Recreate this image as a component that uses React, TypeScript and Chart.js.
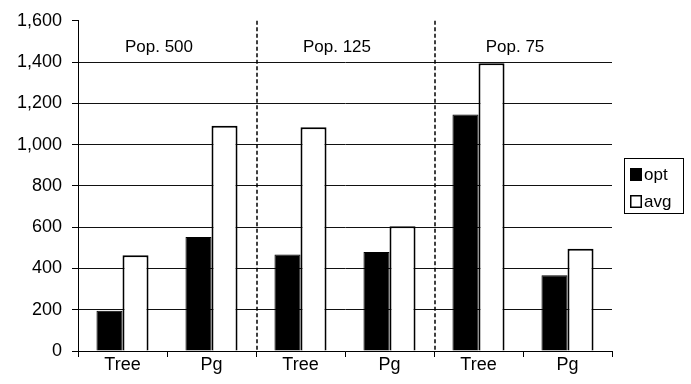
import React, { useEffect, useRef } from "react";
import { Chart, registerables } from "chart.js";

Chart.register(...registerables);

const categories = ["Tree", "Pg", "Tree", "Pg", "Tree", "Pg"];
const groupLabels = ["Pop. 500", "Pop. 125", "Pop. 75"];
const optValues = [195, 552, 467, 480, 1146, 367];
const avgValues = [464, 1092, 1084, 604, 1394, 496];
const seriesNames = ["opt", "avg"];
const yMin = 0;
const yMax = 1600;
const yStep = 200;

const FONT = "'Liberation Sans', Arial, Helvetica, sans-serif";

const overlayPlugin = {
  id: "overlay",
  afterDraw(chart: any) {
    const { ctx, chartArea, scales } = chart;
    const x = scales.x;
    ctx.save();
    // dashed group separators
    ctx.strokeStyle = "#000";
    ctx.lineWidth = 1.5;
    ctx.setLineDash([4, 2.5]);
    for (let g = 1; g < groupLabels.length; g++) {
      const px = (x.getPixelForValue(2 * g - 1) + x.getPixelForValue(2 * g)) / 2 + 1;
      ctx.beginPath();
      ctx.moveTo(px, chartArea.top);
      ctx.lineTo(px, chartArea.bottom);
      ctx.stroke();
    }
    ctx.setLineDash([]);
    // group labels
    ctx.fillStyle = "#000";
    ctx.font = `17px ${FONT}`;
    ctx.textAlign = "center";
    ctx.textBaseline = "middle";
    groupLabels.forEach((lab, g) => {
      const cx = (x.getPixelForValue(2 * g) + x.getPixelForValue(2 * g + 1)) / 2 - 8;
      ctx.fillText(lab, cx, chartArea.top + 27);
    });
    // legend
    const lx = 624, ly = 158, lw = 59, lh = 55;
    ctx.lineWidth = 1;
    ctx.strokeStyle = "#000";
    ctx.strokeRect(lx + 0.5, ly + 0.5, lw, lh);
    ctx.textAlign = "left";
    ctx.font = `17px ${FONT}`;
    // opt
    ctx.fillStyle = "#000";
    ctx.fillRect(630, 168, 12, 13);
    ctx.fillText(seriesNames[0], 644, 175);
    // avg
    ctx.fillStyle = "#fff";
    ctx.fillRect(630, 195, 12, 13);
    ctx.lineWidth = 1.5;
    ctx.strokeRect(630.75, 195.75, 10.5, 11.5);
    ctx.fillStyle = "#000";
    ctx.fillText(seriesNames[1], 644, 202);
    ctx.restore();
  },
};

export default function App() {
  const ref = useRef<HTMLCanvasElement>(null);
  useEffect(() => {
    if (!ref.current) return;
    const chart = new Chart(ref.current, {
      type: "bar",
      data: {
        labels: categories,
        datasets: [
          {
            label: seriesNames[0],
            data: optValues,
            backgroundColor: "#000",
            borderColor: "#000",
            borderWidth: 1,
          },
          {
            label: seriesNames[1],
            data: avgValues,
            backgroundColor: "#fff",
            borderColor: "#000",
            borderWidth: 2,
          },
        ],
      },
      options: {
        animation: false,
        responsive: false,
        devicePixelRatio: 1,
        layout: { padding: { top: 20, right: 79, bottom: 0, left: 0 } },
        datasets: { bar: { categoryPercentage: 0.585, barPercentage: 1.0 } },
        plugins: { legend: { display: false }, tooltip: { enabled: false } },
        scales: {
          x: {
            grid: {
              drawOnChartArea: false,
              drawTicks: true,
              tickLength: 6,
              tickColor: "#000",
              offset: true,
            },
            border: { color: "#000", width: 1 },
            ticks: {
              color: "#000",
              padding: -3,
              font: { family: FONT, size: 18 },
            },
            afterFit: (s: any) => {
              s.height = 33;
            },
          },
          y: {
            min: yMin,
            max: yMax,
            ticks: {
              stepSize: yStep,
              color: "#000",
              padding: 10,
              font: { family: FONT, size: 18 },
              callback: (v: any) => Number(v).toLocaleString("en-US"),
            },
            grid: {
              color: (c: any) => (c.tick && c.tick.value === yMax ? "rgba(0,0,0,0)" : "#111"),
              tickColor: "#000",
              tickLength: 6,
              lineWidth: 1,
            },
            border: { color: "#000", width: 1 },
            afterFit: (s: any) => {
              s.width = 78;
            },
          },
        },
      },
      plugins: [overlayPlugin],
    });
    return () => chart.destroy();
  }, []);
  return (
    <div style={{ position: "absolute", left: 0, top: 0, width: 691, height: 384, background: "#fff" }}>
      <canvas ref={ref} width={691} height={384} />
    </div>
  );
}
